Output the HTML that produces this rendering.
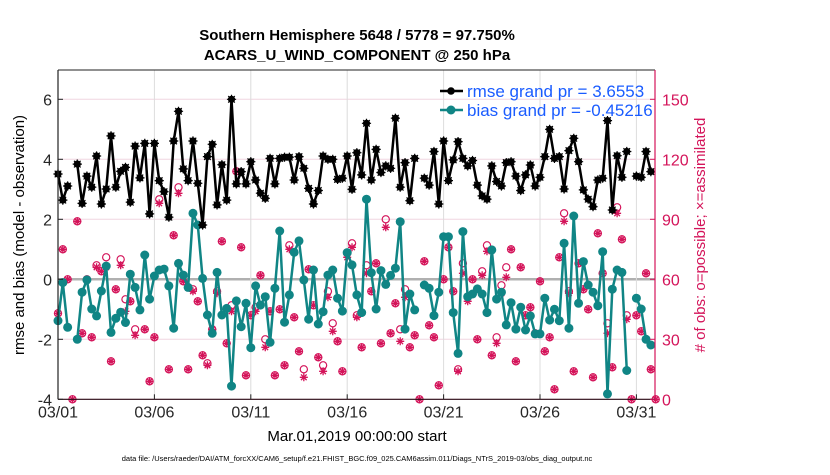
<!DOCTYPE html>
<html><head><meta charset="utf-8"><style>
body{margin:0;background:#fff;}
svg text{font-family:"Liberation Sans",Arial,sans-serif;}
</style></head><body>
<svg id="chart" width="830" height="470" viewBox="0 0 830 470" xmlns="http://www.w3.org/2000/svg">
<text x="357" y="40" text-anchor="middle" font-size="15" font-weight="bold">Southern Hemisphere 5648 / 5778 = 97.750%</text>
<text x="357" y="60" text-anchor="middle" font-size="15" font-weight="bold">ACARS_U_WIND_COMPONENT @ 250 hPa</text>
<g id="grid"></g>
<g id="series"></g>
<g id="axes"></g>
<text transform="translate(24,235) rotate(-90)" text-anchor="middle" font-size="15">rmse and bias (model - observation)</text>
<text transform="translate(705,235) rotate(-90)" text-anchor="middle" font-size="15" fill="#d4145a"># of obs: o=possible; ×=assimilated</text>
<text x="357" y="441" text-anchor="middle" font-size="15">Mar.01,2019 00:00:00 start</text>
<text x="357" y="461" text-anchor="middle" font-size="7.5">data file: /Users/raeder/DAI/ATM_forcXX/CAM6_setup/f.e21.FHIST_BGC.f09_025.CAM6assim.011/Diags_NTrS_2019-03/obs_diag_output.nc</text>
<g>
<line x1="440" y1="91" x2="463" y2="91" stroke="#000" stroke-width="2.5"/>
<circle cx="451" cy="91" r="3.8" fill="#000"/>
<text x="467" y="97" font-size="17" fill="#1a5cff">rmse grand pr = 3.6553</text>
<line x1="440" y1="110" x2="463" y2="110" stroke="#108585" stroke-width="2.5"/>
<circle cx="451" cy="110" r="4.5" fill="#108585"/>
<text x="467" y="116" font-size="17" fill="#1a5cff">bias grand pr = -0.45216</text>
</g>
</svg>
<script>
const rmse=[3.51,2.64,3.11,null,3.84,2.53,3.44,3.07,4.11,2.51,3.01,4.78,3.07,3.6,3.73,2.57,4.44,3.38,4.53,2.18,4.53,3.29,2.92,2.07,4.61,5.6,3.68,3.29,4.61,3.2,1.81,4.09,4.5,2.48,3.82,2.64,6.0,3.18,3.59,3.18,3.92,3.31,2.87,2.7,4.03,3.18,4.03,4.07,4.07,3.31,4.09,3.7,3.03,2.51,2.96,4.11,4.0,4.0,3.33,3.37,4.11,3.0,4.22,3.48,5.2,3.31,4.33,3.56,3.78,3.7,5.37,3.07,3.89,2.62,4.03,null,3.37,3.14,4.26,2.51,4.61,3.29,3.98,4.59,4.03,3.78,3.96,3.14,2.78,2.67,3.78,3.26,3.11,3.89,3.92,3.44,2.96,3.48,3.81,3.11,3.4,4.09,5.0,4.03,4.09,3.01,4.29,4.7,3.92,2.98,2.67,2.42,3.31,3.37,5.29,2.31,4.12,3.4,4.26,null,3.44,3.4,4.26,3.59,null];
const bias=[-1.38,-0.11,-1.6,null,-2.0,-0.43,-0.02,-0.99,-1.22,-0.39,0.44,-1.77,-1.3,-1.1,-1.44,0.17,-0.27,-1.02,0.81,-0.66,0.11,0.31,0.34,-0.22,-1.63,0.53,0.14,-0.27,2.2,1.81,0.03,-1.19,-1.8,0.23,-1.19,-0.97,-3.56,-0.72,-1.58,-0.8,-2.28,-0.22,-0.86,-0.58,-2.1,-0.3,1.61,-1.43,-0.52,0.9,1.28,-0.02,-1.33,0.31,-1.49,-1.08,0.14,0.31,-0.63,-1.06,0.89,0.48,-0.52,-1.11,2.67,0.22,-0.99,0.29,-0.17,0.13,0.37,1.92,-1.66,-0.49,-1.02,null,-0.19,-0.3,-1.21,-0.43,1.42,1.42,-1.11,-2.47,1.59,-0.58,-0.49,-0.32,-0.49,-1.11,0.98,-0.66,-0.43,-1.52,-0.78,-1.66,-0.93,-1.69,-1.22,-1.82,-1.82,-0.63,-1.36,-1.0,-1.38,1.2,-1.63,2.11,-0.8,0.59,-0.19,-0.43,-0.88,0.92,-3.82,-0.33,0.31,0.23,-3.04,null,-0.63,-0.99,-2.0,-2.19,null];
const nPossible=[43,75,60,0,89,33,60,31,67,64,71,19,55,70,50,49,35,null,35,9,31,100,null,15,82,106,59,15,55,49,22,18,35,54,79,28,47,114,76,12,42,46,62,30,44,12,45,17,77,41,24,15,65,47,21,17,54,38,29,14,73,78,42,26,67,54,68,28,90,33,48,35,55,26,32,0,69,37,31,7,60,76,54,15,68,51,60,30,64,77,22,31,57,66,75,19,66,42,46,33,59,24,31,5,71,93,54,14,68,55,45,11,83,63,38,16,96,80,42,0,42,34,63,15,0];
const nAssim=[43,75,60,0,89,33,60,31,66,64,66,19,55,67,44,49,32,null,35,9,31,98,null,15,82,103,59,15,54,49,22,17,35,53,79,28,44,114,76,12,42,44,62,26,44,12,45,17,75,41,24,11,65,47,21,14,51,34,29,14,71,76,41,26,63,54,68,28,86,33,48,29,51,26,32,0,69,37,31,7,60,76,54,14,63,49,60,30,62,74,22,28,53,61,75,19,66,42,46,33,59,24,31,5,71,89,53,14,68,55,45,11,83,63,33,16,93,80,40,0,42,34,63,15,0];
const leftTicks=[-4,-2,0,2,4,6];
const rightTicks=[0,30,60,90,120,150];
const dayTicks=[0,5,10,15,20,25,30];
const dayLabels=["03/01","03/06","03/11","03/16","03/21","03/26","03/31"];
const stepDays=0.25;

const X0=58,X1=655,YT=70,YB=399.3,PXDAY=19.28;
const xS=d=>X0+d*PXDAY;
const yL=v=>279.3-30*v;
const yR=n=>399.3-2*n;
const NS="http://www.w3.org/2000/svg";
function mk(tag,attrs,parent){const e=document.createElementNS(NS,tag);for(const k in attrs)e.setAttribute(k,attrs[k]);parent.appendChild(e);return e;}
const grid=document.getElementById('grid'),ser=document.getElementById('series'),ax=document.getElementById('axes');
const CR="#d4145a",TEAL="#108585";

leftTicks.forEach(v=>{const l=mk('line',{x1:X0,x2:X1,y1:yL(v),y2:yL(v),stroke:v===0?'#b0b0b0':'#f0d6e0','stroke-width':v===0?2.5:1},grid);

});
dayTicks.forEach(d=>{if(d===0)return;const l=mk('line',{x1:xS(d),x2:xS(d),y1:YT,y2:YB,stroke:'#dcdcdc','stroke-width':1},grid);

});

function star(cx,cy,r,g){const s=r*0.707;mk('path',{d:`M${cx-r},${cy}H${cx+r}M${cx},${cy-r}V${cy+r}M${cx-s},${cy-s}L${cx+s},${cy+s}M${cx-s},${cy+s}L${cx+s},${cy-s}`,stroke:CR,'stroke-width':1.3,fill:'none'},g);}
nPossible.forEach((n,i)=>{if(n===null)return;const g=mk('g',{},ser);


const cx=xS(i*stepDays);mk('circle',{cx:cx,cy:yR(n),r:3.6,fill:'none',stroke:CR,'stroke-width':1.2},g);
if(nAssim[i]!==null)star(cx,yR(nAssim[i]),4,g);});

function line(data,y,color,w,name){let d='',pen=false;data.forEach((v,i)=>{if(v===null){pen=false;return;}d+=(pen?'L':'M')+xS(i*stepDays).toFixed(1)+','+y(v).toFixed(1);pen=true;});
const p=mk('path',{d:d,stroke:color,'stroke-width':w,fill:'none','stroke-linejoin':'round'},ser);

}
line(bias,yL,TEAL,2.5,'bias-line');
bias.forEach((v,i)=>{if(v===null)return;const c=mk('circle',{cx:xS(i*stepDays),cy:yL(v),r:4.5,fill:TEAL},ser);

});
line(rmse,yL,'#000',2.5,'rmse-line');
rmse.forEach((v,i)=>{if(v===null)return;const cx=xS(i*stepDays),cy=yL(v);const g=mk('g',{},ser);


mk('circle',{cx:cx,cy:cy,r:3.6,fill:'#000'},g);
const r=4.6,s=3.3;mk('path',{d:`M${cx-r},${cy}H${cx+r}M${cx},${cy-r}V${cy+r}M${cx-s},${cy-s}L${cx+s},${cy+s}M${cx-s},${cy+s}L${cx+s},${cy-s}`,stroke:'#000','stroke-width':1.2},g);});

mk('line',{x1:X0,x2:X1,y1:YT,y2:YT,stroke:'#222','stroke-width':1},ax);
mk('line',{x1:X0,x2:X1,y1:YB,y2:YB,stroke:'#2a0a14','stroke-width':1.2},ax);
mk('line',{x1:X0,x2:X0,y1:YT,y2:YB,stroke:'#222','stroke-width':1.2},ax);
mk('line',{x1:X1,x2:X1,y1:YT,y2:YB,stroke:CR,'stroke-width':1.2},ax);
leftTicks.forEach(v=>{mk('line',{x1:X0,x2:X0+5,y1:yL(v),y2:yL(v),stroke:'#222'},ax);
const t=mk('text',{x:X0-6,y:yL(v)+6,'text-anchor':'end','font-size':16,fill:'#262626'},ax);t.textContent=v;

});
rightTicks.forEach(n=>{mk('line',{x1:X1-5,x2:X1,y1:yR(n),y2:yR(n),stroke:CR},ax);
const t=mk('text',{x:X1+7,y:yR(n)+6,'font-size':16,fill:CR},ax);t.textContent=n;

});
dayTicks.forEach((d,k)=>{mk('line',{x1:xS(d),x2:xS(d),y1:YB-5,y2:YB,stroke:'#222'},ax);
const t=mk('text',{x:xS(d),y:YB+18,'text-anchor':'middle','font-size':16,fill:'#262626'},ax);t.textContent=dayLabels[k];

});
</script>
</body></html>
